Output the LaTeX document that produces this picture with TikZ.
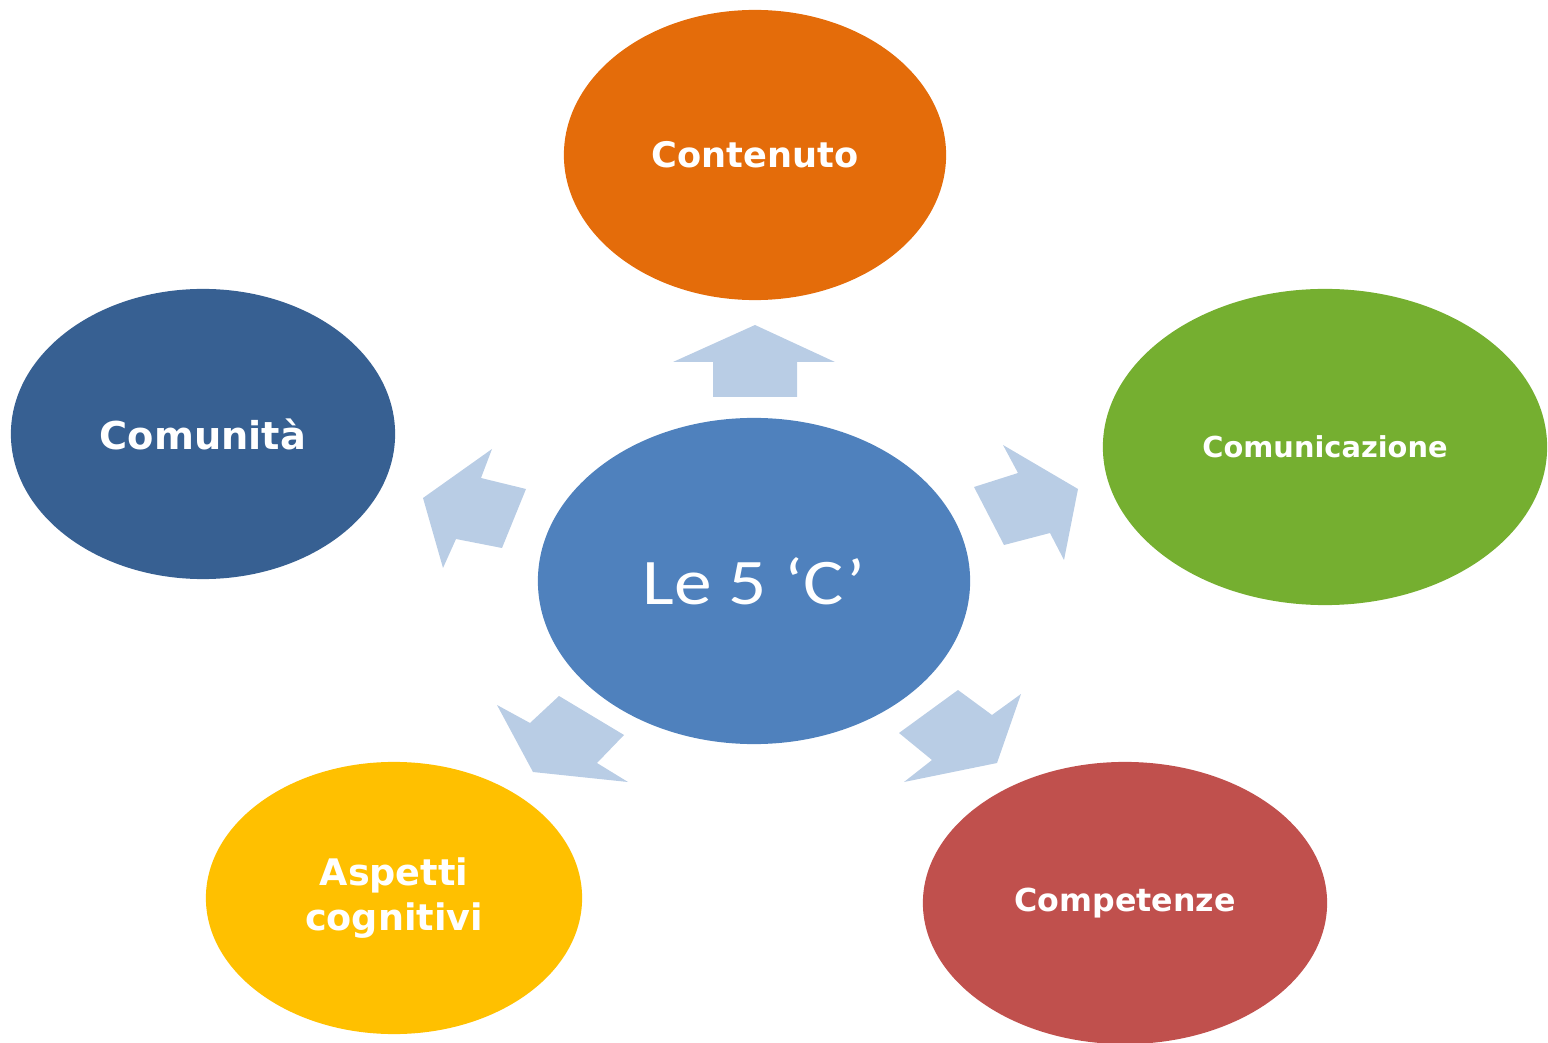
\documentclass[tikz,border=0pt]{standalone}
\usepackage{fontspec}
\usetikzlibrary{shapes.geometric}
\newfontfamily\bubblefont{DejaVu Sans}
\newfontfamily\hubfont{Carlito}
\definecolor{contorange}{HTML}{E46C0A}
\definecolor{commblue}{HTML}{376092}
\definecolor{comgreen}{HTML}{75AF30}
\definecolor{hubblue}{HTML}{4F81BD}
\definecolor{cogyellow}{HTML}{FFC000}
\definecolor{compred}{HTML}{C0504D}
\definecolor{arrowblue}{HTML}{B9CDE5}
\tikzset{
  bubble/.style={ellipse, draw=none, text=white, align=center, inner sep=0pt,
    font=\bubblefont\bfseries},
  blockarrow/.style={fill=arrowblue, draw=none},
}

\begin{document}
\begin{tikzpicture}[x=0.01cm, y=-0.01cm]
  \useasboundingbox (0,0) rectangle (1548,1043);
  % Centre
  \node[bubble, fill=hubblue, minimum width=4.32cm, minimum height=3.26cm,
    font=\hubfont\mdseries\upshape\fontsize{18.5}{22}\selectfont] (hub) at (754,581)
    {\scalebox{1.16}[1]{Le 5 ‘C’}};

  % The five C's
  \node[bubble, fill=contorange, minimum width=3.82cm, minimum height=2.9cm,
    font=\bubblefont\bfseries\fontsize{10}{12}\selectfont] (contenuto) at (755,155) {Contenuto};
  \node[bubble, fill=commblue, minimum width=3.84cm, minimum height=2.9cm,
    font=\bubblefont\bfseries\fontsize{10.9}{13}\selectfont] (comunita) at (203,434) {Comunità};
  \node[bubble, fill=comgreen, minimum width=4.44cm, minimum height=3.16cm,
    font=\bubblefont\bfseries\fontsize{8.2}{10}\selectfont] (comunicazione) at (1325,447) {Comunicazione};
  \node[bubble, fill=cogyellow, minimum width=3.76cm, minimum height=2.72cm,
    font=\bubblefont\bfseries\fontsize{10.4}{12.8}\selectfont] (cognitivi) at (394,898) {Aspetti\\cognitivi};
  \node[bubble, fill=compred, minimum width=4.04cm, minimum height=2.82cm,
    font=\bubblefont\bfseries\fontsize{9}{11}\selectfont] (competenze) at (1125,903) {Competenze};

  % Block arrows
  \fill[blockarrow] (755,325) -- (835,362) -- (797,362) -- (797,397)
    -- (713,397) -- (713,362) -- (673,362) -- cycle;
  \fill[blockarrow] (423,498) -- (492,449) -- (481,478) -- (526,489)
    -- (502,548) -- (456,539) -- (443,568) -- cycle;
  \fill[blockarrow] (1078,489) -- (1064,560) -- (1050,533) -- (1004,545)
    -- (974,487) -- (1018,473) -- (1003,445) -- cycle;
  \fill[blockarrow] (533,772) -- (497,705) -- (530,723) -- (559,696)
    -- (624,735) -- (597,763) -- (628,782) -- cycle;
  \fill[blockarrow] (997,763) -- (904,782) -- (932,760) -- (899,733)
    -- (958,690) -- (992,715) -- (1021,694) -- cycle;
\end{tikzpicture}
\end{document}
